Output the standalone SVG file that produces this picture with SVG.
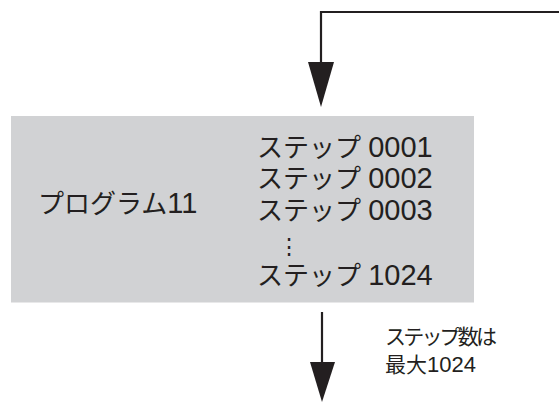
<svg xmlns="http://www.w3.org/2000/svg" width="559" height="403" viewBox="0 0 559 403">
<style>
.ln{fill:none;stroke:#231f20;stroke-width:2.2}
.hd{fill:#231f20}
.t{font-family:"Liberation Sans","Noto Sans CJK JP",sans-serif;fill:#231f20}
.big{font-size:26px}
.dg{font-size:29px}
.sm{font-size:21px}
.dots{font-family:"Noto Sans CJK JP",sans-serif;font-size:22px;fill:#231f20}
</style>
<rect width="559" height="403" fill="#ffffff"/>
<g id="connectors">
<polyline class="ln" points="559,12 321,12 321,64"/>
<polygon class="hd" points="308,62 334,62 321,107"/>
<line class="ln" x1="322" y1="312" x2="322" y2="364"/>
<polygon class="hd" points="310,362 335,362 322,402"/>
</g>
<g id="program">
<rect x="11" y="116" width="463" height="186.5" fill="#d1d2d4"/>
<text class="t big" x="38" y="213">プログラム<tspan class="dg">11</tspan></text>
<text class="t big" x="257" y="157">ステップ <tspan class="dg">0001</tspan></text>
<text class="t big" x="257" y="188">ステップ <tspan class="dg">0002</tspan></text>
<text class="t big" x="257" y="220">ステップ <tspan class="dg">0003</tspan></text>
<text class="dots" x="289" y="254" text-anchor="middle">⋮</text>
<text class="t big" x="257" y="285">ステップ <tspan class="dg">1024</tspan></text>
</g>
<g id="note">
<text class="t sm" x="385" y="344" textLength="112" lengthAdjust="spacing">ステップ数は</text>
<text class="t sm" x="385" y="372">最大<tspan style="font-size:22px">1024</tspan></text>
</g>
</svg>
